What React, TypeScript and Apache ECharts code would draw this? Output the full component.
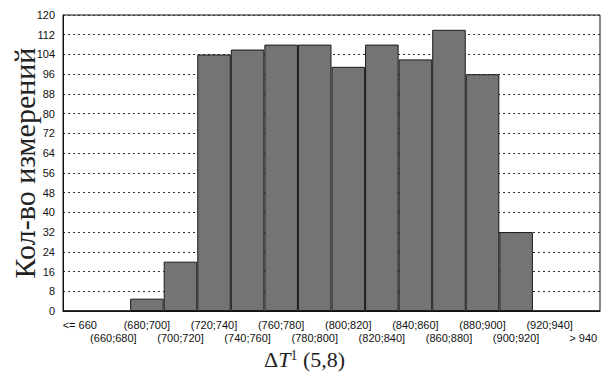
import React, { useEffect, useRef } from "react";
import * as echarts from "echarts";

const categories = [
  "<= 660", "(660;680]", "(680;700]", "(700;720]", "(720;740]", "(740;760]",
  "(760;780]", "(780;800]", "(800;820]", "(820;840]", "(840;860]", "(860;880]",
  "(880;900]", "(900;920]", "(920;940]", "> 940",
];
const counts = [0, 0, 5, 20, 104, 106, 108, 108, 99, 108, 102, 114, 96, 32, 0, 0];
const yTicks = { min: 0, max: 120, interval: 8 };

export default function App() {
  const ref = useRef<HTMLDivElement>(null);
  useEffect(() => {
    const chart = echarts.init(ref.current!, null, { renderer: "svg" });
    chart.setOption({
      animation: false,
      backgroundColor: "#fff",
      grid: {
        left: 63, right: 13, top: 15, bottom: 69, show: true, borderColor: "#111", borderWidth: 1,
        containLabel: false, outerBoundsMode: "none",
      },
      xAxis: {
        type: "category",
        data: categories,
        name: "{d|Δ}{t|T}{s|1} {d|(5,8)}",
        nameLocation: "middle",
        nameGap: 36,
        nameTextStyle: {
          fontFamily: "Liberation Serif", fontSize: 22, color: "#222",
          padding: [0, 54, 0, 0],
          rich: {
            d: { fontFamily: "Liberation Serif", fontSize: 22, color: "#222" },
            t: { fontFamily: "Liberation Serif", fontSize: 22, color: "#222", fontStyle: "italic" },
            s: { fontFamily: "Liberation Serif", fontSize: 14, color: "#222", verticalAlign: "top", padding: [0, 0, 8, 0] },
          },
        },
        axisLine: { lineStyle: { color: "#111" } },
        axisTick: { show: false },
        axisLabel: {
          interval: 0,
          fontFamily: "Liberation Sans",
          fontSize: 11,
          color: "#111",
          margin: 7,
          lineHeight: 13,
          formatter: (v: string, i: number) => (i % 2 === 0 ? v : "\n" + v),
        },
      },
      yAxis: {
        type: "value",
        min: yTicks.min,
        max: yTicks.max,
        interval: yTicks.interval,
        name: "Кол-во измерений",
        nameLocation: "middle",
        nameGap: 24,
        nameMoveOverlap: false,
        nameTextStyle: { fontFamily: "Liberation Serif", fontSize: 30, color: "#222" },
        axisLine: { show: true, lineStyle: { color: "#111" } },
        axisTick: { show: false },
        axisLabel: { fontFamily: "Liberation Sans", fontSize: 11, color: "#111", margin: 8 },
        splitLine: { show: true, lineStyle: { color: "#333", type: [2, 3], width: 1 } },
      },
      series: [
        {
          type: "bar",
          data: counts,
          barCategoryGap: "0%",
          itemStyle: { color: "#747474", borderColor: "#1a1a1a", borderWidth: 1 },
        },
      ],
    });
    return () => chart.dispose();
  }, []);
  return <div ref={ref} style={{ width: 613, height: 380, position: "absolute", left: 0, top: 0 }} />;
}
